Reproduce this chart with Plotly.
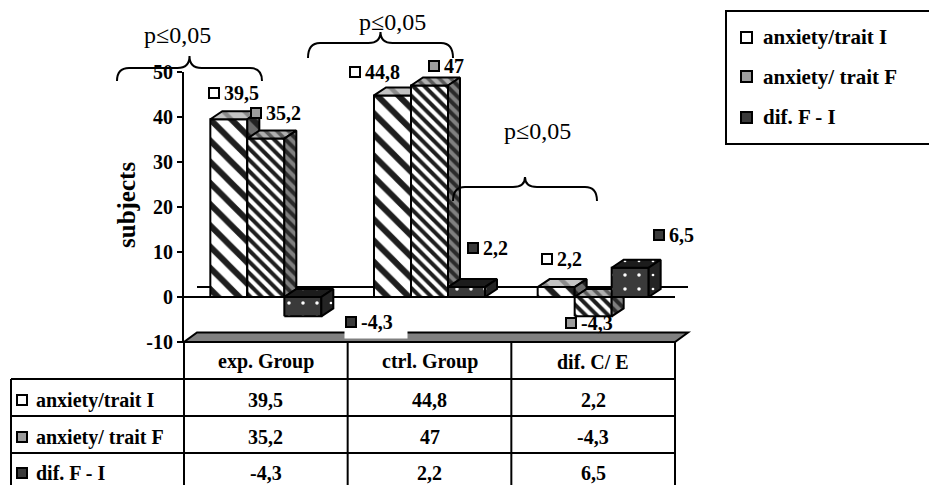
import plotly.graph_objects as go

# ---- data -------------------------------------------------------------
categories = ["exp. Group", "ctrl. Group", "dif. C/ E"]
series_names = ["anxiety/trait I", "anxiety/ trait F", "dif. F - I"]
trait_I = [39.5, 44.8, 2.2]
trait_F = [35.2, 47.0, -4.3]
diff_F_I = [-4.3, 2.2, 6.5]
y_ticks = [-10, 0, 10, 20, 30, 40, 50]
y_title = "subjects"
sig_label = "p≤0,05"

series_values = [trait_I, trait_F, diff_F_I]

# ---- geometry of the canvas ------------------------------------------
W, H = 929, 485
L, R, T, B = 184, 675, 72, 342          # plot area in pixels
X_MIN, X_MAX = -0.5, 2.5
Y_MIN, Y_MAX = -10, 50
PX_X = (R - L) / (X_MAX - X_MIN)        # pixels per category unit
PX_Y = (B - T) / (Y_MAX - Y_MIN)        # pixels per value unit

BAR_W = 37 / PX_X
DEPTH_X = 12 / PX_X
DEPTH_Y = 8 / PX_Y
FLOOR_DX, FLOOR_DY = 13, 9.5            # depth of floor / back wall (px)

SERIF = "Liberation Serif"


def xp(px):
    return (px - L) / (R - L)


def yp(py):
    return (B - py) / (B - T)


def fmt(v):
    return f"{v:g}".replace(".", ",")


# ---- face styles (front / top / side) per series ----------------------
styles = [
    dict(front=("white", "#1e1e1e", "\\", 15, 0.4),
         top=("#c4c4c4", "#8a8a8a", "\\", 15, 0.3),
         side=("#6a6a6a", "#222222", "\\", 15, 0.4)),
    dict(front=("white", "#1e1e1e", "\\", 8, 0.5),
         top=("#b0b0b0", "#5a5a5a", "\\", 8, 0.45),
         side=("#808080", "#2a2a2a", "\\", 8, 0.5)),
    dict(front=("#3a3a3a", "white", ".", 14, 0.05),
         top=("#1c1c1c", "white", ".", 14, 0.03),
         side=("#242424", "white", ".", 14, 0.03)),
]
key_colors = ["white", "#9c9c9c", "#3a3a3a"]


def face(xs, ys, st):
    bg, fg, shape, size, sol = st
    return go.Scatter(
        x=xs + [xs[0]], y=ys + [ys[0]], mode="lines", fill="toself",
        fillcolor=bg,
        fillpattern=dict(shape=shape, fgcolor=fg, bgcolor=bg, fgopacity=1,
                         size=size, solidity=sol),
        line=dict(color="black", width=2), hoverinfo="skip", showlegend=False,
    )


fig = go.Figure()

# 3-D columns, painted front-to-back inside each category
for c in range(len(categories)):
    for i, vals in enumerate(series_values):
        v = vals[c]
        xl = c - 1.5 * BAR_W + i * BAR_W
        xr = xl + BAR_W
        lo, hi = min(v, 0), max(v, 0)
        st = styles[i]
        fig.add_trace(face([xl, xr, xr, xl], [lo, lo, hi, hi], st["front"]))
        fig.add_trace(face([xl, xr, xr + DEPTH_X, xl + DEPTH_X],
                           [hi, hi, hi + DEPTH_Y, hi + DEPTH_Y], st["top"]))
        fig.add_trace(face([xr, xr, xr + DEPTH_X, xr + DEPTH_X],
                           [lo, hi, hi + DEPTH_Y, lo + DEPTH_Y], st["side"]))

shapes = []
annotations = []
line_k = dict(color="black", width=2)


def note(x, y, text, font, xanchor="center", yanchor="middle", **kw):
    d = dict(xref="paper", yref="paper", x=x, y=y, text=text, showarrow=False,
             font=font, xanchor=xanchor, yanchor=yanchor)
    d.update(kw)
    return d


# floor at -10 and the zero plane edges
shapes.append(dict(type="path", xref="paper", yref="paper", layer="below",
                   path=(f"M{xp(L)},{yp(B)} L{xp(R)},{yp(B)} "
                         f"L{xp(R + FLOOR_DX)},{yp(B - FLOOR_DY)} "
                         f"L{xp(L + FLOOR_DX)},{yp(B - FLOOR_DY)} Z"),
                   fillcolor="#808080", line=line_k))
zero_px = B - (0 - Y_MIN) * PX_Y
shapes.append(dict(type="line", xref="paper", yref="paper", layer="below",
                   x0=xp(L + FLOOR_DX), x1=xp(R + FLOOR_DX),
                   y0=yp(zero_px - FLOOR_DY - 0.5), y1=yp(zero_px - FLOOR_DY - 0.5), line=line_k))
shapes.append(dict(type="line", xref="paper", yref="paper", layer="below",
                   x0=xp(L), x1=xp(R), y0=yp(zero_px), y1=yp(zero_px), line=line_k))

# ---- data table under the plot ---------------------------------------
col_edges = [L + k * (R - L) / 3 for k in range(4)]
row_edges = [B, 379, 416, 453, 492]
TAB_LEFT = 11
for k, xe in enumerate(col_edges):
    shapes.append(dict(type="line", xref="paper", yref="paper",
                       x0=xp(xe), x1=xp(xe), y0=yp(B), y1=yp(row_edges[-1]), line=line_k))
shapes.append(dict(type="line", xref="paper", yref="paper",
                   x0=xp(TAB_LEFT), x1=xp(TAB_LEFT), y0=yp(row_edges[1]), y1=yp(row_edges[-1]),
                   line=line_k))
for ye in row_edges[1:]:
    shapes.append(dict(type="line", xref="paper", yref="paper",
                       x0=xp(TAB_LEFT), x1=xp(R), y0=yp(ye), y1=yp(ye), line=line_k))

tab_font = dict(family=SERIF, size=20, color="black", weight="bold")
header_y = 362
row_y = [400, 437, 473]
for c, name in enumerate(categories):
    cx = (col_edges[c] + col_edges[c + 1]) / 2
    annotations.append(note(xp(cx), yp(header_y), name, tab_font))
    for i, vals in enumerate(series_values):
        annotations.append(note(xp(cx), yp(row_y[i]), fmt(vals[c]), tab_font))


def key_box(xref, yref, x, y, color, xshift=0, yshift=0, size=8):
    return dict(xref=xref, yref=yref, x=x, y=y, xshift=xshift, yshift=yshift,
                xanchor="center", yanchor="middle",
                text="\u00a0", showarrow=False, width=size, height=size,
                bgcolor=color, bordercolor="black", borderwidth=2, borderpad=0,
                font=dict(size=4))


for i, name in enumerate(series_names):
    annotations.append(key_box("paper", "paper", xp(22), yp(row_y[i]), key_colors[i]))
    annotations.append(note(xp(34), yp(row_y[i]), name, tab_font, xanchor="left"))

# ---- legend box ------------------------------------------------------
legend_font = dict(family=SERIF, size=21, color="black", weight="bold")
shapes.append(dict(type="rect", xref="paper", yref="paper",
                   x0=xp(726), x1=xp(990), y0=yp(11), y1=yp(144),
                   line=line_k, fillcolor="white"))
legend_y = [37, 77, 117]
for i, name in enumerate(series_names):
    annotations.append(key_box("paper", "paper", xp(746), yp(legend_y[i]), key_colors[i],
                               size=9))
    annotations.append(note(xp(761), yp(legend_y[i]), name, legend_font, xanchor="left"))

# ---- value labels on the columns -------------------------------------
# key-square offset from the top-centre of each column front (px, down +)
label_offsets = [
    [(-15, -26), (-38, -23), (-9, -28)],
    [(-10, -26), (4, -20), (-22, 7)],
    [(48, 6), (6, -39), (29, -33)],
]
lab_font = dict(family=SERIF, size=20, color="black", weight="bold")
for i, vals in enumerate(series_values):
    for c, v in enumerate(vals):
        xc = c - BAR_W + i * BAR_W
        dx, dy = label_offsets[i][c]
        if i == 2 and c == 0:
            annotations.append(dict(xref="x", yref="y", x=xc, y=v, xshift=dx + 25,
                                    yshift=-(dy + 2), xanchor="center", yanchor="middle",
                                    text="\u00a0", showarrow=False,
                                    width=62, height=28, bgcolor="white",
                                    borderpad=0, font=dict(size=4)))
        annotations.append(key_box("x", "y", xc, v, key_colors[i], xshift=dx, yshift=-dy))
        annotations.append(dict(xref="x", yref="y", x=xc, y=v, xshift=dx + 8,
                                yshift=-dy, xanchor="left", yanchor="middle", text=fmt(v),
                                showarrow=False, font=lab_font))

# ---- significance braces ---------------------------------------------
def brace(x0, x1, yh, yend, ypeak, r=12):
    xc = (x0 + x1) / 2
    pts = (f"M{xp(x0)},{yp(yend)} Q{xp(x0)},{yp(yh)} {xp(x0 + r)},{yp(yh)} "
           f"L{xp(xc - r)},{yp(yh)} Q{xp(xc)},{yp(yh)} {xp(xc)},{yp(ypeak)} "
           f"Q{xp(xc)},{yp(yh)} {xp(xc + r)},{yp(yh)} "
           f"L{xp(x1 - r)},{yp(yh)} Q{xp(x1)},{yp(yh)} {xp(x1)},{yp(yend)}")
    return dict(type="path", xref="paper", yref="paper", path=pts,
                line=dict(color="black", width=2), layer="above")


brace_specs = [(117, 262, 68, 81, 56), (308, 453, 43, 58, 32), (453, 597, 187, 201, 177)]
sig_pos = [(177, 35), (392, 22), (537, 131)]
sig_font = dict(family=SERIF, size=24, color="black")
for spec, (tx, ty) in zip(brace_specs, sig_pos):
    shapes.append(brace(*spec))
    annotations.append(note(xp(tx), yp(ty), sig_label, sig_font))

annotations.append(note(xp(126), yp(205), y_title,
                        dict(family=SERIF, size=25, color="black", weight="bold"),
                        textangle=-90))

fig.update_layout(
    width=W, height=H, autosize=False,
    margin=dict(l=L, r=W - R, t=T, b=H - B, pad=0),
    paper_bgcolor="white", plot_bgcolor="white",
    showlegend=False,
    xaxis=dict(range=[X_MIN, X_MAX], visible=False, fixedrange=True),
    yaxis=dict(range=[Y_MIN, Y_MAX], tickvals=y_ticks, ticktext=[str(t) for t in y_ticks],
               showgrid=False, zeroline=False, showline=True, linecolor="black",
               linewidth=2, ticks="outside", ticklen=5, tickwidth=2, tickcolor="black",
               tickfont=dict(family=SERIF, size=20, color="black", weight="bold"),
               fixedrange=True),
    shapes=shapes,
    annotations=annotations,
)

fig.write_html("out.html")
